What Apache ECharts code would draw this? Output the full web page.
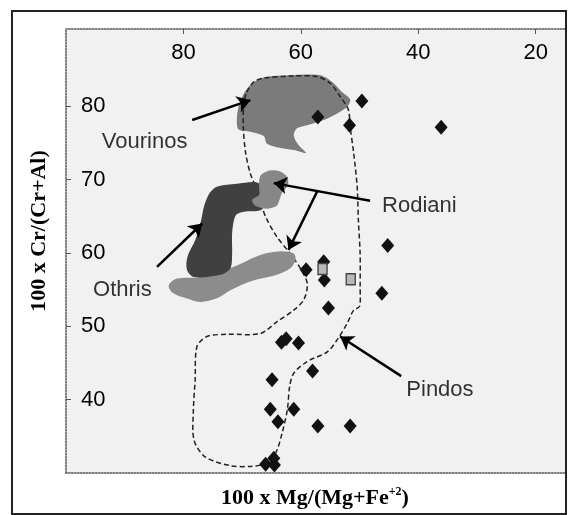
<!DOCTYPE html>
<html><head><meta charset="utf-8">
<script src="https://cdn.jsdelivr.net/npm/echarts@6/dist/echarts.min.js"></script>
<style>html,body{margin:0;padding:0;background:#fff}#c{width:568px;height:515px}</style>
</head><body><div id="c"></div>
<script>
// ---- data (value space: x = 100·Mg/(Mg+Fe2+), y = 100·Cr/(Cr+Al)) ----
const xTicks = [20, 40, 60, 80];
const yTicks = [40, 50, 60, 70, 80];

const diamonds = [
  [49.6, 80.7], [57.1, 78.5], [51.7, 77.4], [36.1, 77.1],
  [45.2, 61.0], [59.1, 57.7], [56.1, 58.8], [56.0, 56.3],
  [46.2, 54.5], [55.3, 52.5], [63.3, 47.8], [62.5, 48.3],
  [60.4, 47.7], [58.0, 43.9], [64.9, 42.7], [65.2, 38.7],
  [61.2, 38.7], [63.9, 37.0], [57.1, 36.4], [51.6, 36.4],
  [66.0, 31.2], [64.6, 32.0], [64.5, 31.1]
];
const squares = [[56.3, 57.8], [51.5, 56.4]];

const vourinos = [
  [67.5, 83.5], [65.8, 84.0], [61.8, 84.2], [56.7, 84.2], [54.7, 83.3],
  [53.0, 81.9], [51.6, 80.9], [52.1, 79.9], [53.8, 79.0], [56.1, 78.1],
  [58.9, 77.4], [60.6, 77.0], [61.2, 76.0], [60.4, 74.7], [59.1, 73.6],
  [61.2, 74.0], [64.1, 74.4], [65.8, 74.9], [66.3, 75.9], [68.6, 76.5],
  [70.6, 76.8], [70.9, 78.1], [70.6, 79.9], [69.7, 81.7], [68.6, 82.9]
];
const rodianiUpper = [
  [66.8, 70.6], [65.5, 71.2], [63.6, 71.1], [62.3, 70.3], [62.2, 69.2],
  [63.2, 68.2], [63.6, 67.3], [64.1, 66.4], [65.8, 66.0], [67.7, 66.4],
  [68.3, 67.2], [67.1, 67.9], [67.1, 68.8], [67.1, 69.8]
];
const rodianiLower = [
  [82.5, 55.6], [81.1, 56.5], [77.1, 56.7], [71.4, 58.1], [66.9, 59.7],
  [63.5, 60.2], [61.2, 59.9], [60.9, 59.0], [61.8, 57.9], [64.1, 57.0],
  [68.6, 56.1], [72.0, 54.9], [74.3, 53.8], [77.1, 53.3], [79.9, 53.9],
  [81.9, 54.6]
];
const othris = [
  [75.4, 68.3], [74.3, 69.0], [70.9, 69.4], [67.5, 69.6], [66.3, 68.8],
  [66.0, 66.7], [66.9, 65.8], [69.7, 65.6], [71.1, 65.1], [71.7, 62.7],
  [71.7, 59.9], [72.0, 57.9], [73.7, 57.0], [78.2, 56.7], [79.4, 57.7],
  [79.3, 59.5], [78.0, 61.7], [77.1, 64.0], [76.5, 66.3], [75.9, 67.6]
];
const pindos = [
  [69.2, 81.9], [68.0, 83.3], [66.3, 83.8], [61.8, 84.1], [57.2, 84.0],
  [55.0, 83.1], [53.3, 81.3], [51.9, 79.5], [51.6, 77.2], [51.0, 73.6],
  [50.4, 69.0], [50.2, 64.5], [49.9, 59.9], [49.9, 55.4], [50.0, 52.7],
  [51.0, 52.2], [52.1, 50.4], [53.6, 48.4], [55.5, 46.5], [58.9, 45.2],
  [61.2, 43.6], [61.9, 41.8], [62.3, 38.6], [63.2, 35.4], [64.3, 32.7],
  [66.0, 31.3], [68.6, 30.9], [72.0, 31.0], [76.3, 32.2], [78.2, 34.5],
  [78.3, 38.6], [78.0, 42.7], [77.7, 47.2], [76.0, 48.6], [72.6, 48.9],
  [66.9, 49.0], [64.1, 50.6], [61.2, 52.2], [59.5, 53.6], [58.9, 55.8],
  [60.1, 57.9], [61.8, 59.9], [64.1, 62.2], [66.0, 64.9], [66.6, 66.3],
  [67.7, 69.0], [68.6, 70.8], [69.4, 73.6], [69.8, 77.2], [69.7, 80.4]
];
const arrows = [
  [[78.5, 78.1], [68.6, 80.8]],   // Vourinos
  [[48.2, 67.1], [64.6, 69.5]],   // Rodiani (upper)
  [[57.2, 68.4], [62.1, 60.4]],   // Rodiani (lower branch)
  [[84.5, 58.1], [76.8, 64.0]],   // Othris
  [[42.9, 43.2], [53.3, 48.6]]    // Pindos
];
const labelNames = ['Vourinos', 'Rodiani', 'Othris', 'Pindos'];
const labelPos = [[86.6, 75.1], [39.8, 66.4], [90.4, 54.9], [36.3, 41.3]];
const xTitle = '100 x Mg/(Mg+Fe', xTitleSup = '+2';
const yTitle = '100 x Cr/(Cr+Al)';

// ---- chart ----
function shapeSeries(name, pts, style, z) {
  return {
    type: 'custom', name: name, coordinateSystem: 'cartesian2d',
    data: [pts[0]], clip: false, silent: true, z: z,
    renderItem: function (params, api) {
      return {
        type: 'polygon',
        shape: { points: pts.map(function (q) { return api.coord(q); }), smooth: 0.3 },
        style: style
      };
    }
  };
}

const chart = echarts.init(document.getElementById('c'), null, { renderer: 'canvas' });
const labelFont = 'Liberation Sans, Arial, sans-serif';
const titleFont = 'Liberation Serif, Times New Roman, serif';

chart.setOption({
  animation: false,
  backgroundColor: '#ffffff',
  grid: { left: 66, right: 3, top: 29, bottom: 42, show: true, backgroundColor: '#f1f1f1', borderWidth: 0 },
  xAxis: [{
    type: 'value', position: 'top', inverse: true, min: 15, max: 100,
    axisLine: { show: true, onZero: false, lineStyle: { color: '#555', type: 'dotted', width: 1.5 } },
    axisTick: { show: true, inside: true, length: 5, customValues: xTicks, lineStyle: { color: '#555' } },
    axisLabel: { inside: true, customValues: xTicks, margin: 13, fontSize: 22, color: '#000', fontFamily: labelFont },
    splitLine: { show: false }
  }, {
    type: 'value', position: 'bottom', inverse: true, min: 15, max: 100,
    axisLine: { show: true, onZero: false, lineStyle: { color: '#555', type: 'dotted', width: 1.5 } },
    axisTick: { show: false }, axisLabel: { show: false }, splitLine: { show: false }
  }],
  yAxis: {
    type: 'value', min: 30, max: 90.5,
    axisLine: { show: true, onZero: false, lineStyle: { color: '#555', type: 'dotted', width: 1.5 } },
    axisTick: { show: true, inside: true, length: 5, customValues: yTicks, lineStyle: { color: '#555' } },
    axisLabel: { inside: true, customValues: yTicks, margin: 15, fontSize: 22, color: '#000', fontFamily: labelFont },
    splitLine: { show: false }
  },
  graphic: [
    { type: 'rect', shape: { x: 12, y: 11, width: 554, height: 503 }, style: { fill: null, stroke: '#222', lineWidth: 2 }, z: 100 },
    { type: 'text', x: 315, y: 498, z: 100,
      style: { text: '{a|' + xTitle + '}{s|' + xTitleSup + '}{a|)}', textAlign: 'center', textVerticalAlign: 'middle',
        rich: { a: { fontSize: 22, fontWeight: 'bold', fontFamily: titleFont, fill: '#000' },
                s: { fontSize: 12, fontWeight: 'bold', fontFamily: titleFont, fill: '#000', padding: [0, 0, 12, 0] } } } },
    { type: 'text', x: 39, y: 231, rotation: Math.PI / 2, z: 100,
      style: { text: yTitle, textAlign: 'center', textVerticalAlign: 'middle', fontSize: 22, fontWeight: 'bold', fontFamily: titleFont, fill: '#000' } }
  ],
  series: [
    shapeSeries('Vourinos', vourinos, { fill: '#7b7b7b' }, 2),
    shapeSeries('Pindos', pindos, { fill: null, stroke: '#222', lineWidth: 1.5, lineDash: [5, 3] }, 3),
    shapeSeries('Rodiani lower', rodianiLower, { fill: '#8c8c8c' }, 4),
    shapeSeries('Othris', othris, { fill: '#404040' }, 5),
    shapeSeries('Rodiani upper', rodianiUpper, { fill: '#878787' }, 6),
    {
      type: 'lines', coordinateSystem: 'cartesian2d', z: 7, silent: true,
      data: arrows.map(function (a) { return { coords: a }; }),
      symbol: ['none', 'arrow'], symbolSize: 13,
      lineStyle: { color: '#000', width: 2.5, opacity: 1 }
    },
    {
      type: 'scatter', z: 8, symbol: 'diamond', symbolSize: [13, 15],
      itemStyle: { color: '#111', opacity: 1 }, data: diamonds
    },
    {
      type: 'scatter', z: 9, symbol: 'rect', symbolSize: [9, 11],
      itemStyle: { color: '#b8b8b8', borderColor: '#444', borderWidth: 1.5, opacity: 1 }, data: squares
    },
    {
      type: 'scatter', z: 10, symbolSize: 0, silent: true,
      data: labelPos.map(function (p, i) { return { name: labelNames[i], value: p }; }),
      label: { show: true, position: 'inside', formatter: '{b}', fontSize: 22, color: '#000', fontFamily: labelFont }
    }
  ]
});
</script>
</body></html>
